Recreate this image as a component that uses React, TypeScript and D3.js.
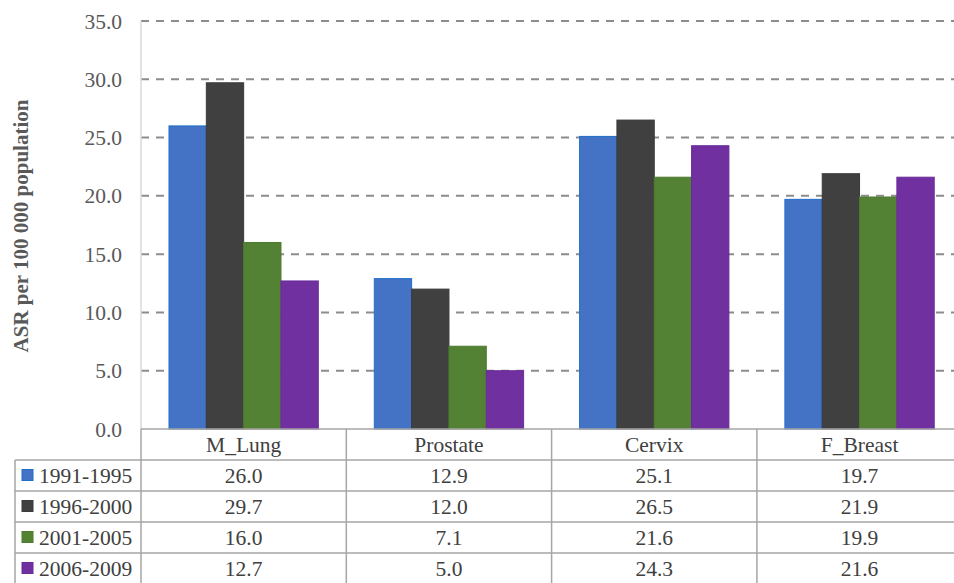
import React from "react";
import * as d3 from "d3";

const categories = ["M_Lung", "Prostate", "Cervix", "F_Breast"];
const periods = ["1991-1995", "1996-2000", "2001-2005", "2006-2009"];
const p1991_1995 = [26.0, 12.9, 25.1, 19.7];
const p1996_2000 = [29.7, 12.0, 26.5, 21.9];
const p2001_2005 = [16.0, 7.1, 21.6, 19.9];
const p2006_2009 = [12.7, 5.0, 24.3, 21.6];
const seriesValues = [p1991_1995, p1996_2000, p2001_2005, p2006_2009];
const seriesColors = ["#4472C4", "#404040", "#548235", "#7030A0"];
const seriesStrokes = ["#1F6FC8", "#3A3A3A", "#4E7A30", "#6A2C9A"];
const yTicks = [0, 5, 10, 15, 20, 25, 30, 35];
const yLabel = "ASR per 100 000 population";

const W = 954;
const H = 583;
const left = 141;
const colW = 205.3;
const y0 = 429;
const yTop = 21;
const rowH = 31;
const tableLeft = 15;
const font = "Liberation Serif, Times New Roman, DejaVu Serif, serif";
const fs = 21.5;

export default function App() {
  const x = d3
    .scaleBand<string>()
    .domain(categories)
    .range([left, left + colW * categories.length])
    .paddingInner(0)
    .paddingOuter(0);
  const sub = d3
    .scaleBand<string>()
    .domain(periods)
    .range([0, x.bandwidth()])
    .paddingInner(0)
    .paddingOuter(0.75);
  const y = d3.scaleLinear().domain([0, 35]).range([y0, yTop]);
  const fmt = d3.format(".1f");
  const tableRight = left + colW * categories.length;
  const tableBottom = y0 + rowH * (periods.length + 1);
  const border = "#A6A6A6";

  return (
    <div style={{ position: "absolute", left: 0, top: 0, width: W, height: H, background: "#fff" }}>
      <svg width={W} height={H} style={{ display: "block" }}>
        <rect x={0} y={0} width={W} height={H} fill="#fff" />
        <g fontFamily={font}>
          {/* horizontal gridlines */}
          {yTicks
            .filter((t) => t > 0)
            .map((t) => (
              <line
                key={"g" + t}
                x1={left}
                x2={W}
                y1={y(t)}
                y2={y(t)}
                stroke="#8C8C8C"
                strokeWidth={2}
                strokeDasharray="8,7"
              />
            ))}
          {/* value axis line */}
          <line x1={left} x2={left} y1={yTop} y2={y0} stroke="#D9D9D9" strokeWidth={1.5} />
          {/* tick labels */}
          {yTicks.map((t) => (
            <text
              key={"t" + t}
              x={122}
              y={y(t)}
              dy="0.35em"
              textAnchor="end"
              fontSize={fs}
              fill="#595959"
            >
              {fmt(t)}
            </text>
          ))}
          {/* axis title */}
          <text
            transform={`translate(28, ${(yTop + y0) / 2 + 1}) rotate(-90)`}
            textAnchor="middle"
            fontSize={21}
            fontWeight="bold"
            fill="#595959"
          >
            {yLabel}
          </text>
          {/* bars */}
          {seriesValues.map((vals, si) =>
            categories.map((c, ci) => {
              const bx = (x(c) as number) + (sub(periods[si]) as number);
              const by = y(vals[ci]);
              return (
                <rect
                  key={`b${si}-${ci}`}
                  x={bx}
                  y={by}
                  width={sub.bandwidth()}
                  height={y0 - by}
                  fill={seriesColors[si]}
                  stroke={seriesStrokes[si]}
                  strokeWidth={1}
                />
              );
            })
          )}
          {/* data table */}
          <g stroke={border} strokeWidth={1.5} fill="none">
            <line x1={left} x2={tableRight} y1={y0} y2={y0} />
            {periods.map((p, i) => (
              <line
                key={"r" + p}
                x1={tableLeft}
                x2={tableRight}
                y1={y0 + rowH * (i + 1)}
                y2={y0 + rowH * (i + 1)}
              />
            ))}
            <line x1={tableLeft} x2={tableLeft} y1={y0 + rowH} y2={tableBottom} />
            {d3.range(categories.length + 1).map((i) => (
              <line
                key={"c" + i}
                x1={left + colW * i}
                x2={left + colW * i}
                y1={y0}
                y2={tableBottom}
              />
            ))}
          </g>
          {categories.map((c) => (
            <text
              key={"h" + c}
              x={(x(c) as number) + x.bandwidth() / 2}
              y={y0 + rowH / 2}
              dy="0.35em"
              textAnchor="middle"
              fontSize={fs}
              fill="#404040"
            >
              {c}
            </text>
          ))}
          {periods.map((p, si) => {
            const cy = y0 + rowH * (si + 1) + rowH / 2;
            return (
              <g key={"row" + p}>
                <rect
                  x={22}
                  y={cy - 6}
                  width={11}
                  height={11}
                  fill={seriesColors[si]}
                  stroke={seriesStrokes[si]}
                  strokeWidth={1}
                />
                <text x={39} y={cy} dy="0.35em" fontSize={fs} fill="#404040">
                  {p}
                </text>
                {categories.map((c, ci) => (
                  <text
                    key={"v" + c}
                    x={(x(c) as number) + x.bandwidth() / 2}
                    y={cy}
                    dy="0.35em"
                    textAnchor="middle"
                    fontSize={fs}
                    fill="#404040"
                  >
                    {fmt(seriesValues[si][ci])}
                  </text>
                ))}
              </g>
            );
          })}
        </g>
      </svg>
    </div>
  );
}
